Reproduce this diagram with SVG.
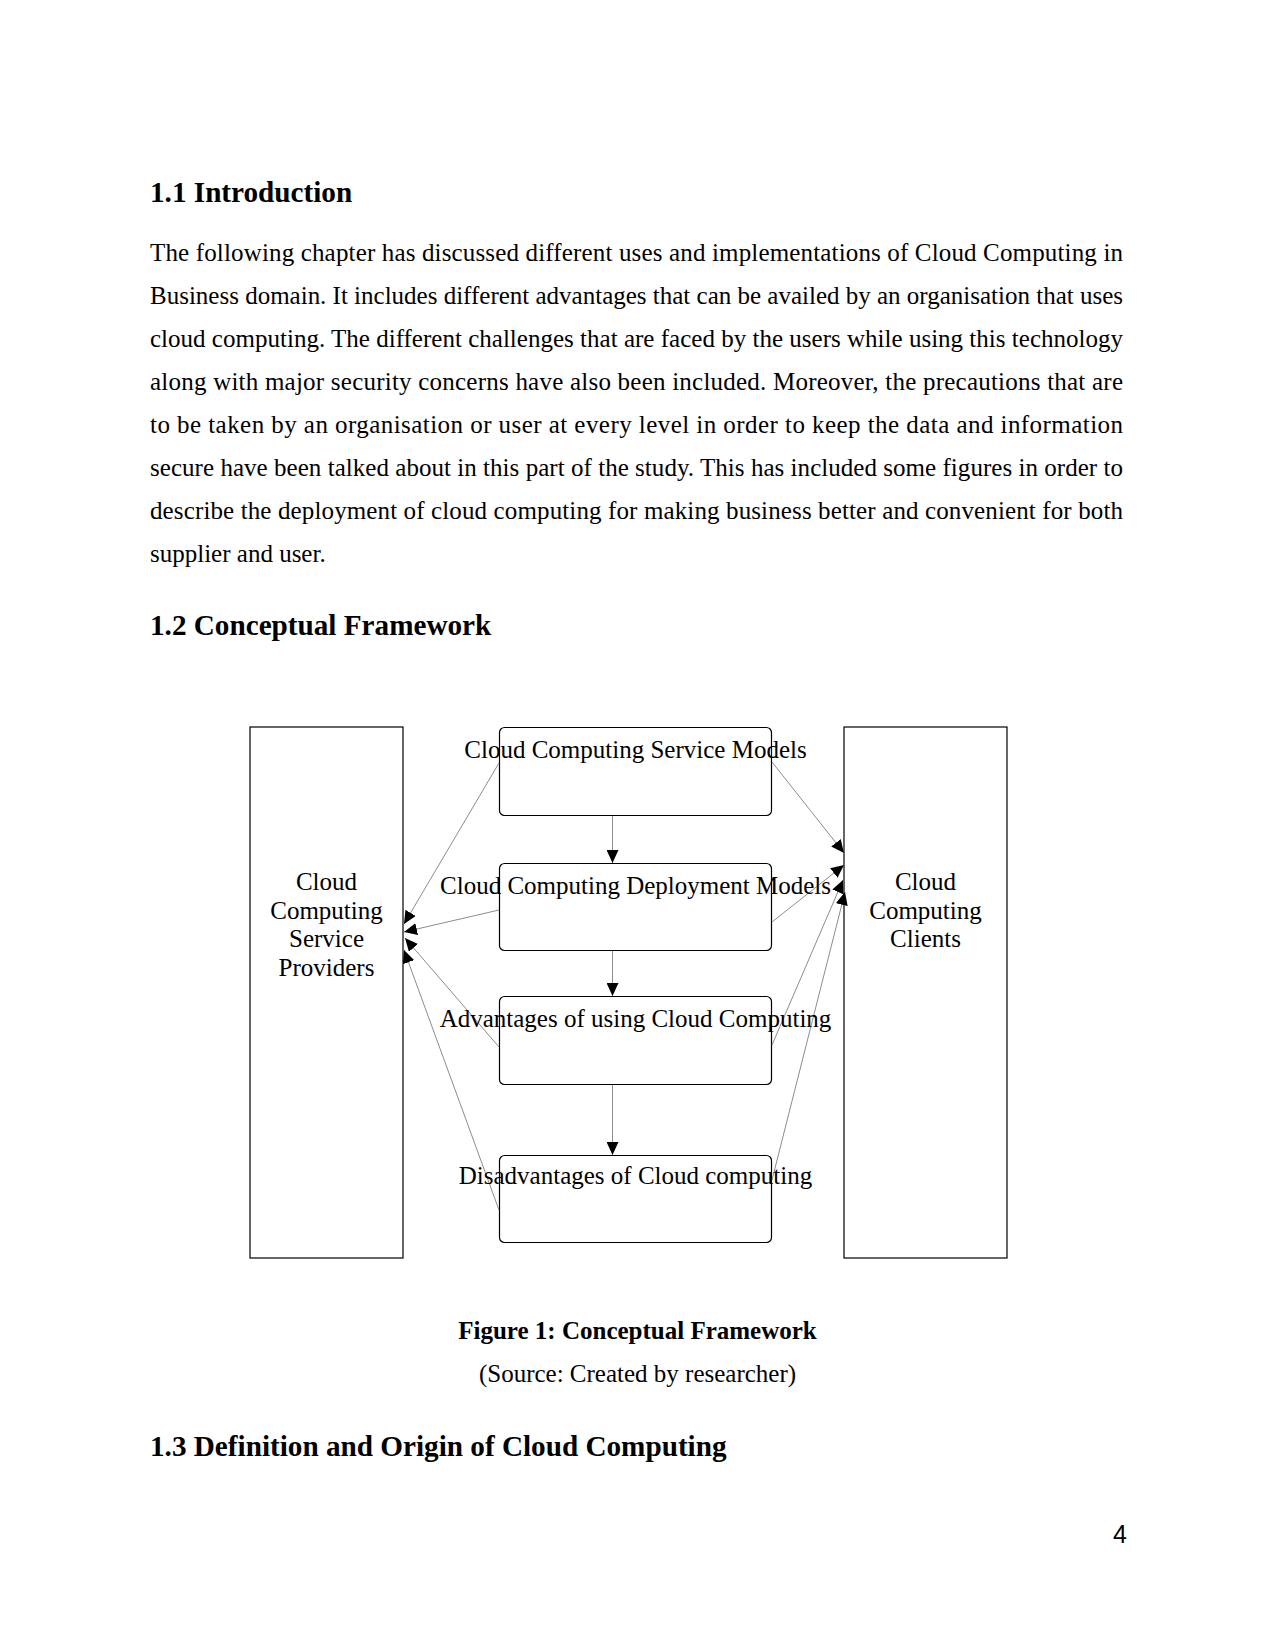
<svg xmlns="http://www.w3.org/2000/svg" width="1275" height="1650" viewBox="0 0 1275 1650">
<style>
.body{font-family:"Liberation Serif",serif;font-size:25px;fill:#000}
.h{font-family:"Liberation Serif",serif;font-size:29.2px;font-weight:bold;fill:#000}
.cap{font-family:"Liberation Serif",serif;font-size:25px;font-weight:bold;fill:#000}
.lbl{font-family:"Liberation Serif",serif;font-size:25px;fill:#000;text-anchor:middle}
.side{fill:#fff;stroke:#000;stroke-width:1.2}
.box{fill:#fff;stroke:#000;stroke-width:1.2}
.conn line{stroke:#7f7f7f;stroke-width:0.9;fill:none}
</style>
<defs>
<marker id="ah" viewBox="0 0 13 12" refX="13" refY="6" markerWidth="13" markerHeight="12" markerUnits="userSpaceOnUse" orient="auto">
<path d="M0,0 L13,6 L0,12 Z" fill="#000"/>
</marker>
</defs>
<rect width="1275" height="1650" fill="#fff"/>
<text class="h" x="150" y="202">1.1 Introduction</text>
<g class="body">
<text x="150" y="261" textLength="973" lengthAdjust="spacing">The following chapter has discussed different uses and implementations of Cloud Computing in</text>
<text x="150" y="304" textLength="973" lengthAdjust="spacing">Business domain. It includes different advantages that can be availed by an organisation that uses</text>
<text x="150" y="347" textLength="973" lengthAdjust="spacing">cloud computing. The different challenges that are faced by the users while using this technology</text>
<text x="150" y="390" textLength="973" lengthAdjust="spacing">along with major security concerns have also been included. Moreover, the precautions that are</text>
<text x="150" y="433" textLength="973" lengthAdjust="spacing">to be taken by an organisation or user at every level in order to keep the data and information</text>
<text x="150" y="476" textLength="973" lengthAdjust="spacing">secure have been talked about in this part of the study. This has included some figures in order to</text>
<text x="150" y="519" textLength="973" lengthAdjust="spacing">describe the deployment of cloud computing for making business better and convenient for both</text>
<text x="150" y="562">supplier and user.</text>
</g>
<text class="h" x="150" y="635">1.2 Conceptual Framework</text>

<g id="providers">
<rect class="side" x="250" y="727" width="153" height="531"/>
<text class="lbl" x="326.5" y="890">Cloud</text>
<text class="lbl" x="326.5" y="919">Computing</text>
<text class="lbl" x="326.5" y="947">Service</text>
<text class="lbl" x="326.5" y="976">Providers</text>
</g>
<g id="clients">
<rect class="side" x="844" y="727" width="163" height="531"/>
<text class="lbl" x="925.5" y="890">Cloud</text>
<text class="lbl" x="925.5" y="919">Computing</text>
<text class="lbl" x="925.5" y="947">Clients</text>
</g>
<g id="service-models">
<rect class="box" x="499.5" y="727.5" width="272" height="88" rx="5"/>
</g>
<g id="deployment-models">
<rect class="box" x="499.5" y="863.5" width="272" height="87" rx="5"/>
</g>
<g id="advantages">
<rect class="box" x="499.5" y="996.5" width="272" height="88" rx="5"/>
</g>
<g id="disadvantages">
<rect class="box" x="499.5" y="1155.5" width="272" height="87" rx="5"/>
</g>

<g class="conn" id="connectors">
<line x1="612.5" y1="816" x2="612.5" y2="863" marker-end="url(#ah)"/>
<line x1="612.5" y1="951" x2="612.5" y2="996" marker-end="url(#ah)"/>
<line x1="612.5" y1="1085" x2="612.5" y2="1155" marker-end="url(#ah)"/>
<line x1="499" y1="763" x2="404" y2="924" marker-end="url(#ah)"/>
<line x1="499" y1="910" x2="404" y2="932" marker-end="url(#ah)"/>
<line x1="499" y1="1047" x2="405" y2="938" marker-end="url(#ah)"/>
<line x1="499" y1="1210" x2="404" y2="950" marker-end="url(#ah)"/>
<line x1="772" y1="762" x2="844" y2="853" marker-end="url(#ah)"/>
<line x1="772" y1="922" x2="844" y2="865" marker-end="url(#ah)"/>
<line x1="772" y1="1045" x2="843" y2="880" marker-end="url(#ah)"/>
<line x1="772" y1="1180" x2="845" y2="892" marker-end="url(#ah)"/>
</g>

<g id="box-labels">
<text class="lbl" x="635.5" y="758">Cloud Computing Service Models</text>
<text class="lbl" x="635.5" y="894">Cloud Computing Deployment Models</text>
<text class="lbl" x="635.5" y="1027">Advantages of using Cloud Computing</text>
<text class="lbl" x="635.5" y="1184">Disadvantages of Cloud computing</text>
</g>

<text class="cap" x="637.5" y="1339" text-anchor="middle">Figure 1: Conceptual Framework</text>
<text class="body" x="637.5" y="1382" text-anchor="middle">(Source: Created by researcher)</text>
<text class="h" x="150" y="1456">1.3 Definition and Origin of Cloud Computing</text>
<text x="1127" y="1543" text-anchor="end" style="font-family:'Liberation Sans',sans-serif;font-size:25px">4</text>
</svg>
